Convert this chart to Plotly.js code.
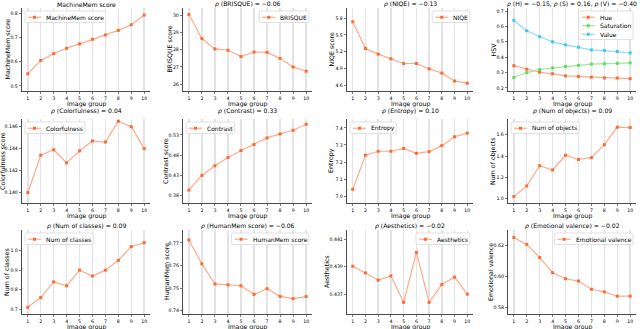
<!DOCTYPE html>
<html>
<head>
<meta charset="utf-8">
<script src="https://cdn.plot.ly/plotly-3.0.1.min.js"></script>
<style>html,body{margin:0;padding:0;background:#fff}#plot{width:640px;height:329px}</style>
</head>
<body>
<div id="plot"></div>
<script>
const groups = [1,2,3,4,5,6,7,8,9,10];

const machineMem = [0.550,0.605,0.633,0.655,0.673,0.692,0.710,0.729,0.752,0.792];
const brisque = [30.05,28.65,28.05,27.97,27.60,27.87,27.85,27.50,27.00,26.75];
const niqe = [5.735,5.259,5.158,5.075,4.990,4.990,4.895,4.820,4.677,4.640];
const hue = [0.345,0.322,0.302,0.292,0.278,0.275,0.270,0.265,0.264,0.260];
const saturation = [0.268,0.300,0.320,0.330,0.340,0.347,0.355,0.357,0.360,0.363];
const value = [0.640,0.572,0.533,0.500,0.480,0.465,0.447,0.443,0.437,0.428];
const colorfulness = [0.1400,0.1434,0.1439,0.1427,0.1438,0.1447,0.1446,0.1465,0.1460,0.1440];
const contrast = [0.393,0.4295,0.4534,0.474,0.4913,0.506,0.5226,0.5325,0.5415,0.5564];
const entropy = [7.040,7.240,7.263,7.263,7.280,7.251,7.261,7.296,7.348,7.369];
const numObjects = [1.02,1.12,1.31,1.27,1.408,1.368,1.386,1.507,1.671,1.668];
const numClasses = [0.71,0.76,0.84,0.82,0.90,0.87,0.90,0.95,1.02,1.04];
const humanMem = [0.7713,0.7607,0.7518,0.7514,0.7510,0.7472,0.7497,0.7463,0.7453,0.7462];
const aesthetics = [0.43904,0.43856,0.43803,0.43834,0.43643,0.44004,0.43643,0.43772,0.43825,0.43702];
const emotional = [0.6252,0.6207,0.6122,0.6024,0.5985,0.5970,0.5917,0.5900,0.5872,0.5872];

const titles = [
  'MachineMem score',
  '<i>ρ</i> (BRISQUE) = −0.06',
  '<i>ρ</i> (NIQE) = −0.13',
  '<i>ρ</i> (H) = −0.15, <i>ρ</i> (S) = 0.16, <i>ρ</i> (V) = −0.40',
  '<i>ρ</i> (Colorfulness) = 0.04',
  '<i>ρ</i> (Contrast) = 0.33',
  '<i>ρ</i> (Entropy) = 0.10',
  '<i>ρ</i> (Num of objects) = 0.09',
  '<i>ρ</i> (Num of classes) = 0.09',
  '<i>ρ</i> (HumanMem score) = −0.06',
  '<i>ρ</i> (Aesthetics) = −0.02',
  '<i>ρ</i> (Emotional valence) = −0.02'
];
const yTitles = ['MachineMem score','BRISQUE score','NIQE score','HSV','Colorfulness score','Contrast score',
  'Entropy','Num of objects','Num of classes','HumanMem score','Aesthetics','Emotional valence'];
const xTitle = 'Image group';
const yTicks = [
  [0.5,0.6,0.7,0.8],[26,27,28,29,30],[4.6,4.9,5.2,5.5,5.8],[0.2,0.3,0.4,0.5,0.6,0.7],
  [0.140,0.142,0.144,0.146],[0.38,0.43,0.48,0.53],[7.0,7.1,7.2,7.3,7.4],[1.0,1.2,1.4,1.6],
  [0.7,0.8,0.9,1.0],[0.74,0.75,0.76,0.77],[0.437,0.439,0.441],[0.58,0.60,0.62]
];
const yTickText = [
  ['0.5','0.6','0.7','0.8'],['26','27','28','29','30'],['4.6','4.9','5.2','5.5','5.8'],
  ['0.2','0.3','0.4','0.5','0.6','0.7'],['0.140','0.142','0.144','0.146'],['0.38','0.43','0.48','0.53'],
  ['7.0','7.1','7.2','7.3','7.4'],['1.0','1.2','1.4','1.6'],['0.7','0.8','0.9','1.0'],
  ['0.74','0.75','0.76','0.77'],['0.437','0.439','0.441'],['0.58','0.60','0.62']
];
const yRanges = [
  [0.479,0.821],[25.6,30.43],[4.5,5.98],[0.18,0.72],
  [0.13905,0.1467],[0.361,0.5695],[6.96,7.452],[0.96,1.748],
  [0.676,1.105],[0.7385,0.7757],[0.43559,0.44165],[0.5757,0.6300]
];

const series = [
  [{name:'MachineMem score', y: machineMem}],
  [{name:'BRISQUE', y: brisque}],
  [{name:'NIQE', y: niqe}],
  [{name:'Hue', y: hue}, {name:'Saturation', y: saturation, c:'sat'}, {name:'Value', y: value, c:'val'}],
  [{name:'Colorfulness', y: colorfulness}],
  [{name:'Contrast', y: contrast}],
  [{name:'Entropy', y: entropy}],
  [{name:'Num of objects', y: numObjects}],
  [{name:'Num of classes', y: numClasses}],
  [{name:'HumanMem score', y: humanMem}],
  [{name:'Aesthetics', y: aesthetics}],
  [{name:'Emotional valence', y: emotional}]
];
const legendSide = ['l','r','r','r','l','l','l','l','l','r','r','r'];

const palette = {
  def: {line:'#ffab8a', mark:'#ff6a33'},
  sat: {line:'#9be89b', mark:'#5fdc5f'},
  val: {line:'#8fdcf5', mark:'#3cc8f0'}
};

// page geometry in pixels
const W = 640, H = 329;
const cols = [[22,150],[183,312],[347,473],[508,636]];
const rows = [[8,91],[119,203],[230,314]];
const titleY = [4,111,226];
const yTitleX = [7,169,331,493, 3,166,331,493, 6,166,326,490];
const fx = p => p / W;
const fy = p => 1 - p / H;
const FONT = 'DejaVu Sans';

const ctx = document.createElement('canvas').getContext('2d');
ctx.font = '6px "' + FONT + '"';

const data = [];
const layout = {
  width: W, height: H,
  margin: {l:0, r:0, t:0, b:0},
  paper_bgcolor: '#fff', plot_bgcolor: '#fff',
  font: {family: FONT, color: '#000', size: 6},
  showlegend: false,
  annotations: [], shapes: []
};

function addText(text, x, y, opts) {
  layout.annotations.push(Object.assign({
    text: text, xref: 'paper', yref: 'paper', x: fx(x), y: fy(y),
    xanchor: 'center', yanchor: 'middle', showarrow: false, font: {size: 6}
  }, opts || {}));
}

// rounded box path, pixel coords -> paper coords
function roundBox(x0, y0, x1, y1, rad) {
  const P = (x, y) => fx(x) + ',' + fy(y);
  return 'M' + P(x0 + rad, y0) + ' L' + P(x1 - rad, y0) + ' Q' + P(x1, y0) + ' ' + P(x1, y0 + rad) +
    ' L' + P(x1, y1 - rad) + ' Q' + P(x1, y1) + ' ' + P(x1 - rad, y1) +
    ' L' + P(x0 + rad, y1) + ' Q' + P(x0, y1) + ' ' + P(x0, y1 - rad) +
    ' L' + P(x0, y0 + rad) + ' Q' + P(x0, y0) + ' ' + P(x0 + rad, y0) + ' Z';
}

for (let i = 0; i < 12; i++) {
  const c = cols[i % 4], r = rows[Math.floor(i / 4)];
  const n = i + 1;
  const ax = n === 1 ? '' : String(n);

  series[i].forEach(s => {
    const col = palette[s.c || 'def'];
    data.push({
      x: groups, y: s.y, name: s.name, type: 'scatter', mode: 'lines+markers',
      xaxis: 'x' + ax, yaxis: 'y' + ax,
      line: {color: col.line, width: 1.2},
      marker: {color: col.mark, size: 3, symbol: 'square'}
    });
  });

  layout['xaxis' + ax] = {
    domain: [fx(c[0]), fx(c[1])], anchor: 'y' + ax,
    range: [0.55, 10.45], tickvals: groups, ticks: 'outside', ticklen: 2.5, tickwidth: 0.7,
    showline: true, linecolor: '#000', linewidth: 0.7, zeroline: false,
    showgrid: true, gridcolor: '#e3e3e3', gridwidth: 1.4,
    tickfont: {size: 4.7}, fixedrange: true
  };
  layout['yaxis' + ax] = {
    domain: [fy(r[1]), fy(r[0])], anchor: 'x' + ax,
    range: yRanges[i], tickvals: yTicks[i], ticktext: yTickText[i],
    ticks: 'outside', ticklen: 2.5, tickwidth: 0.7,
    showline: true, linecolor: '#000', linewidth: 0.7, zeroline: false, showgrid: false,
    tickfont: {size: 4.7}, fixedrange: true
  };

  // titles
  addText(titles[i], (c[0] + c[1]) / 2, titleY[Math.floor(i / 4)], {font: {size: 6.1}});
  addText(xTitle, (c[0] + c[1]) / 2, r[1] + 12.6, {font: {size: 6.2}});
  addText(yTitles[i], yTitleX[i], (r[0] + r[1]) / 2, {textangle: -90, font: {size: 6.3}});

  // legend box, matplotlib style
  const names = series[i].map(s => s.name);
  const tw = Math.max(...names.map(t => ctx.measureText(t).width));
  const rowH = 8.5;
  const boxW = 3 + 13 + 3 + tw + 4;
  const boxH = 2 + rowH * names.length + 1;
  const top = r[0] + 3;
  const left = legendSide[i] === 'l' ? c[0] + 3 : c[1] - 3 - boxW;
  layout.shapes.push({
    type: 'path', xref: 'paper', yref: 'paper',
    path: roundBox(left, top, left + boxW, top + boxH, 1.5),
    line: {color: '#d2d2d2', width: 0.7}, fillcolor: 'rgba(255,255,255,0.85)'
  });
  series[i].forEach((s, k) => {
    const col = palette[s.c || 'def'];
    const cy = top + 2 + rowH * (k + 0.5);
    layout.shapes.push({
      type: 'line', xref: 'paper', yref: 'paper',
      x0: fx(left + 3), x1: fx(left + 16), y0: fy(cy), y1: fy(cy),
      line: {color: col.line, width: 1.2}
    });
    layout.shapes.push({
      type: 'rect', xref: 'paper', yref: 'paper',
      x0: fx(left + 8), x1: fx(left + 11), y0: fy(cy - 1.5), y1: fy(cy + 1.5),
      line: {width: 0}, fillcolor: col.mark
    });
    addText(s.name, left + 19, cy, {xanchor: 'left'});
  });
}

Plotly.newPlot('plot', data, layout, {staticPlot: true});
</script>
</body>
</html>
